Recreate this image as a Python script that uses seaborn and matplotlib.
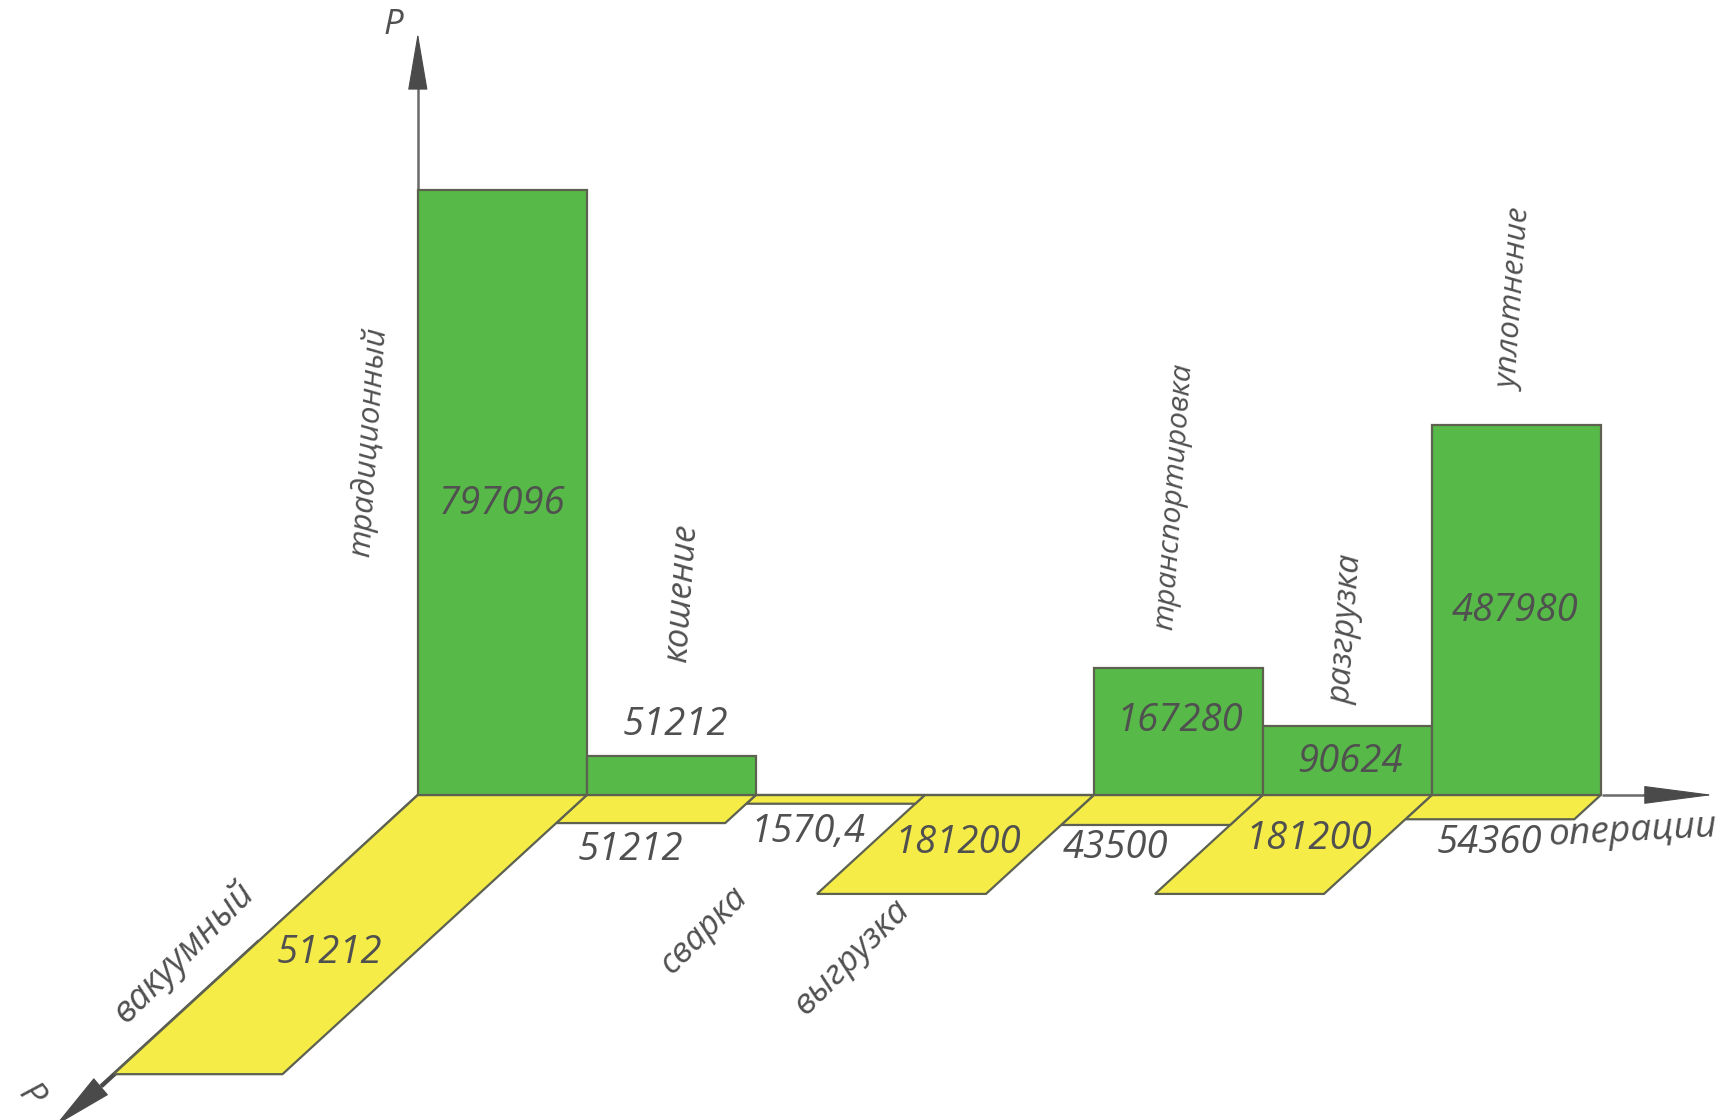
import matplotlib
matplotlib.use("Agg")
import matplotlib.pyplot as plt
import pandas as pd
import seaborn as sns
from matplotlib.patches import Polygon

# ---- data ----
operations = ["традиционный", "кошение", "сварка", "выгрузка",
              "транспортировка", "разгрузка", "уплотнение"]
traditional_values = [797096, 51212, 0, 0, 167280, 90624, 487980]
vacuum_labels = ["51212", "51212", "1570,4", "181200", "43500", "181200", "54360"]
# depth of each yellow plate, expressed in the units of the vertical axis
vacuum_depths = [368000, 37000, 11500, 130400, 39500, 130400, 32000]

W, H = 1724, 1120
SHRINK = 1724 / 1568
GREEN, YELLOW = "#57B947", "#F5EC48"
EDGE, INK, AXIS, HEAD = "#5C6150", "#505050", "#6A6A6A", "#4A4A4A"
BASE_PX = 795.0
LEFT_PX = 417.8
BAR_PX = 169.0
PX_PER_VALUE = 604.7 / 797096
SKEW = 1.09

sns.set_theme(style="white")
plt.rcParams["font.family"] = ["Open Sans", "DejaVu Sans"]

fig = plt.figure(figsize=(W / 100, H / 100), dpi=100, facecolor="white")
ax = fig.add_axes([0, 0, 1, 1])

frame = pd.DataFrame({"operation": operations, "value": traditional_values})
sns.barplot(data=frame, x="operation", y="value", color=GREEN, saturation=1,
            width=1.0, edgecolor=EDGE, linewidth=1.6, ax=ax, zorder=3)

ax.set_xlim((0 - LEFT_PX) / BAR_PX - 0.5, (W - LEFT_PX) / BAR_PX - 0.5)
ax.set_ylim(-(H - BASE_PX) / PX_PER_VALUE, BASE_PX / PX_PER_VALUE)
ax.set_axis_off()

# yellow plates: an oblique projection of the depth values
for i in range(len(operations) - 1, -1, -1):
    d = vacuum_depths[i]
    shift = SKEW * d * PX_PER_VALUE / BAR_PX
    ax.add_patch(Polygon([(i - 0.5, 0), (i + 0.5, 0),
                          (i + 0.5 - shift, -d), (i - 0.5 - shift, -d)],
                         closed=True, facecolor=YELLOW, edgecolor=EDGE,
                         linewidth=1.6, joinstyle="miter", zorder=2))


def frac(px, py):
    return px * SHRINK / W, 1 - py * SHRINK / H


def arrow(start, base, tip, length=38, width=6.5):
    ax.plot(*zip(frac(*start), frac(*base)), transform=ax.transAxes,
            color=AXIS, lw=1.8, zorder=1.5, solid_capstyle="butt")
    style = f"-|>,head_length={length},head_width={width}"
    ax.annotate("", xy=frac(*tip), xytext=frac(*base),
                xycoords="axes fraction", textcoords="axes fraction", zorder=5,
                arrowprops=dict(arrowstyle=style, mutation_scale=1, lw=0.8,
                                shrinkA=0, shrinkB=0,
                                facecolor=HEAD, edgecolor=HEAD))


arrow((380, 723), (380, 80), (380, 30))
arrow((1457, 723), (1495, 723), (1558, 723), length=46, width=6)
arrow((380, 723), (92, 988), (50, 1024), length=41, width=7.5)
ax.plot(*zip(frac(236, 856), frac(92, 988)), transform=ax.transAxes,
        color=HEAD, lw=3.2, zorder=1.6, solid_capstyle="butt")


def label(text, px, py, rot=0, size=27.5):
    x, y = frac(px, py)
    ax.text(x, y, text, transform=ax.transAxes, rotation=rot, fontsize=size,
            style="italic", color=INK, ha="center", va="center",
            rotation_mode="anchor", zorder=6)


# values on the bars
label(str(traditional_values[0]), 457, 458)
label(str(traditional_values[1]), 614, 659)
label(str(traditional_values[4]), 1073, 656)
label(str(traditional_values[5]), 1228, 693)
label(str(traditional_values[6]), 1378, 556)
# values on the plates
for text, px, py in zip(vacuum_labels,
                        [300, 573, 735, 871, 1015, 1190, 1355],
                        [867, 773, 757, 767, 771, 763, 767]):
    label(text, px, py)
# names
label(operations[0], 335, 402, 86, 22.5)
label(operations[1], 620, 540, 86, 24.5)
label(operations[2], 640, 846, 45, 24.7)
label(operations[3], 775, 871, 45, 25.3)
label(operations[4], 1068, 452, 86, 21.5)
label(operations[5], 1225, 572, 86, 23.7)
label(operations[6], 1379, 273, 86, 22.5)
label("вакуумный", 167, 867, 45, 26)
label("операции", 1485, 756, 3, 26.8)
label("Р", 358, 23, 0, 25)
label("Р", 28, 997, -50, 25)

fig.savefig("out.png", dpi=100, facecolor="white")
